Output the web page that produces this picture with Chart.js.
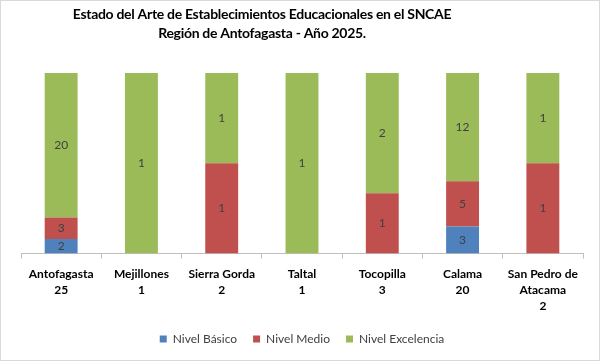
<!DOCTYPE html>
<html>
<head>
<meta charset="utf-8">
<script src="https://cdn.jsdelivr.net/npm/chart.js@4"></script>
<style>
  html, body { margin: 0; padding: 0; background: #fff; }
  #wrap { width: 598px; height: 359px; border: 1px solid #d9d9d9; }
</style>
</head>
<body>
<div id="wrap"><canvas id="grafico" width="598" height="359"></canvas></div>
<script>
const titulo = ["Estado del Arte de Establecimientos Educacionales en el SNCAE", "Región de Antofagasta - Año 2025."];
const comunas = [["Antofagasta", "25"], ["Mejillones", "1"], ["Sierra Gorda", "2"], ["Taltal", "1"], ["Tocopilla", "3"], ["Calama", "20"], ["San Pedro de", "Atacama", "2"]];
const nivelBasico = [2, 0, 0, 0, 0, 3, 0];
const nivelMedio = [3, 0, 1, 0, 1, 5, 1];
const nivelExcelencia = [20, 1, 1, 1, 2, 12, 1];

const totales = nivelBasico.map((v, i) => v + nivelMedio[i] + nivelExcelencia[i]);
const pct = arr => arr.map((v, i) => v / totales[i] * 100);

// titulo (algo corrido a la izquierda, como en el original) y conteos en cada tramo
const extras = {
  id: "extras",
  afterDatasetsDraw(chart) {
    const ctx = chart.ctx;
    ctx.save();
    ctx.font = "12px Lato";
    ctx.fillStyle = "#404040";
    ctx.textAlign = "center";
    ctx.textBaseline = "middle";
    chart.data.datasets.forEach((ds, d) => {
      chart.getDatasetMeta(d).data.forEach((bar, i) => {
        const n = ds.conteo[i];
        if (!n) return;
        const p = bar.getCenterPoint();
        ctx.fillText(n, p.x, p.y);
      });
    });
    ctx.font = "bold 14px Lato";
    ctx.letterSpacing = "-0.3px";
    ctx.fillStyle = "#000";
    ctx.textBaseline = "alphabetic";
    ctx.fillText(titulo[0], 261, 18);
    ctx.fillText(titulo[1], 261, 37);
    ctx.restore();
  }
};

var ctx = document.getElementById("grafico").getContext("2d");
var grafico = new Chart(ctx, {
  type: "bar",
  data: {
    labels: comunas,
    datasets: [
      { label: "Nivel Básico", data: pct(nivelBasico), conteo: nivelBasico, backgroundColor: "#4F81BD" },
      { label: "Nivel Medio", data: pct(nivelMedio), conteo: nivelMedio, backgroundColor: "#C0504D" },
      { label: "Nivel Excelencia", data: pct(nivelExcelencia), conteo: nivelExcelencia, backgroundColor: "#9BBB59" }
    ]
  },
  options: {
    responsive: false,
    animation: false,
    datasets: { bar: { categoryPercentage: 1, barPercentage: 0.41, borderWidth: 0 } },
    layout: { padding: { left: 20, right: 16, top: 72, bottom: 5 } },
    plugins: {
      title: { display: false },
      legend: {
        position: "bottom",
        labels: {
          color: "#404040",
          font: { family: "Lato", size: 12 },
          boxWidth: 7,
          boxHeight: 7,
          padding: 16
        }
      },
      tooltip: { enabled: false }
    },
    scales: {
      x: {
        stacked: true,
        afterFit(scale) { scale.height = 63.5; },
        grid: { offset: true, drawOnChartArea: false, tickLength: 5, color: "#bfbfbf" },
        border: { color: "#bfbfbf" },
        ticks: { color: "#000", font: { family: "Lato", size: 12, weight: "bold", lineHeight: 1.33 }, padding: 7.5, maxRotation: 0 }
      },
      y: {
        stacked: true,
        display: false,
        min: 0,
        max: 100
      }
    }
  },
  plugins: [extras]
});
</script>
</body>
</html>
